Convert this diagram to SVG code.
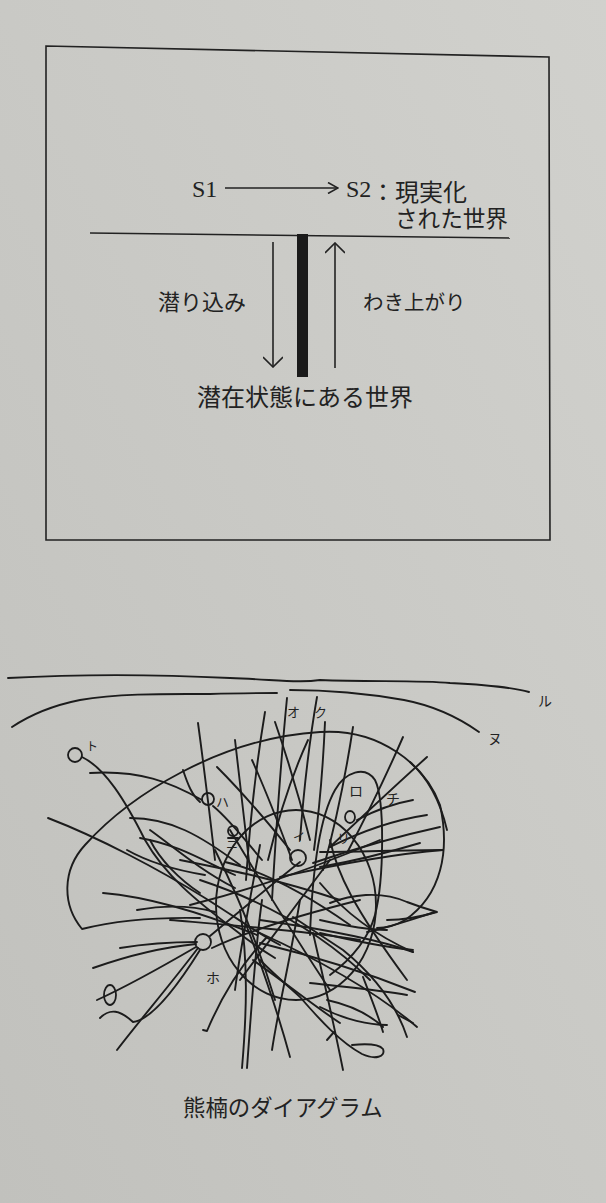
<svg xmlns="http://www.w3.org/2000/svg" width="606" height="1203" viewBox="0 0 606 1203">
<defs>
<linearGradient id="bg" x1="1" y1="0" x2="0" y2="1">
<stop offset="0" stop-color="#d1d1cd"/>
<stop offset="1" stop-color="#c1c1bd"/>
</linearGradient>
<marker id="oa" viewBox="0 0 12 12" refX="11" refY="6" markerWidth="12" markerHeight="12" markerUnits="userSpaceOnUse" orient="auto">
<path d="M1,0.5 L11,6 L1,11.5" fill="none" stroke="#222" stroke-width="1.6"/>
</marker>
<marker id="va" viewBox="0 0 22 14" refX="21" refY="7" markerWidth="22" markerHeight="20" markerUnits="userSpaceOnUse" orient="auto">
<path d="M11,-3 L21,7 L11,17" fill="none" stroke="#222" stroke-width="1.6"/>
</marker>
</defs>
<style>
.jp{font-family:"Liberation Serif","Noto Sans CJK JP",serif;fill:#222}
.lat{font-family:"Liberation Serif",serif;fill:#222}
.sm{font-family:"Noto Sans CJK JP",sans-serif;fill:#222}
.ln{fill:none;stroke:#222;stroke-width:1.6}
.t{fill:none;stroke:#1c1c1c;stroke-width:1.9;stroke-linecap:round;stroke-linejoin:round}
.nd{fill:none;stroke:#1c1c1c;stroke-width:1.8}
</style>
<rect width="606" height="1203" fill="url(#bg)"/>

<g id="frame">
<path class="ln" d="M46,46 L549,57 L550,540 L46,540 Z"/>
<path class="ln" d="M90,233 L510,238"/>
</g>

<g id="s1"><text class="lat" x="192" y="197" font-size="24">S1</text></g>
<g id="s2">
<text class="lat" x="346" y="197" font-size="24">S2</text>
<text class="jp" x="371" y="201" font-size="24">：現実化</text>
<text class="jp" x="395" y="227" font-size="22.6">された世界</text>
</g>
<g id="bar"><rect x="297" y="234" width="11" height="143" fill="#1a1a1a"/></g>
<g id="label-down"><text class="jp" x="158" y="310" font-size="22">潜り込み</text></g>
<g id="label-up"><text class="jp" x="363" y="310" font-size="20.5">わき上がり</text></g>
<g id="latent"><text class="jp" x="197" y="406" font-size="24">潜在状態にある世界</text></g>

<g id="connectors">
<path class="ln" d="M225,188 L338,188" marker-end="url(#oa)"/>
<path class="ln" d="M273,242 L273,367" marker-end="url(#va)"/>
<path class="ln" d="M335,368 L335,243" marker-end="url(#va)"/>
</g>

<g id="minakata">
<path class="t" d="M8,678 C80,674 150,674 230,678 C280,680 300,683 320,680 C370,682 420,680 450,683 C490,685 515,688 529,692"/>
<path class="t" d="M12,727 C30,715 55,705 80,700 C120,693 170,694 210,694 C240,693 260,693 277,693"/>
<path class="t" d="M290,690 C330,690 370,694 404,700 C430,705 455,715 479,732"/>

<path class="t" d="M200,918 C150,917 110,922 82,929 C62,905 62,870 85,845 C130,795 220,738 320,732 C380,728 425,765 440,805 C450,850 442,895 405,920 C395,926 385,928 377,928"/>
<path class="t" d="M410,762 C428,778 440,800 447,830"/>
<path class="t" d="M310,935 C312,880 318,820 335,790 C345,772 365,765 375,780 C385,800 384,880 375,915 C368,940 350,960 330,975"/>
<ellipse class="t" cx="296" cy="905" rx="80" ry="95"/>

<path class="t" d="M287,698 Q279,780 272,900"/>
<path class="t" d="M317,697 Q306,760 300,840"/>
<path class="t" d="M325,722 Q322,790 314,850"/>
<path class="t" d="M198,723 Q207,790 215,860"/>
<path class="t" d="M265,712 Q252,790 246,880"/>
<path class="t" d="M275,722 Q295,780 310,840"/>
<path class="t" d="M235,740 Q242,800 250,870"/>
<path class="t" d="M217,767 Q250,800 290,850"/>
<path class="t" d="M252,760 Q270,800 292,860"/>
<path class="t" d="M308,740 Q285,790 268,860"/>
<path class="t" d="M353,727 Q342,800 323,870"/>
<path class="t" d="M403,737 Q380,790 347,853"/>
<path class="t" d="M427,757 Q385,795 330,847"/>
<path class="t" d="M413,800 Q385,805 357,820"/>
<path class="t" d="M427,815 Q380,822 330,847"/>
<path class="t" d="M440,827 Q380,840 313,863"/>
<path class="t" d="M443,850 Q380,855 280,877"/>

<path class="t" d="M82,757 C105,768 125,800 145,840 C165,875 195,900 235,930 C250,942 262,950 275,958"/>
<path class="t" d="M90,773 C140,770 170,782 202,800"/>
<path class="t" d="M48,818 C100,838 160,870 205,898 C240,920 260,935 280,945"/>
<path class="t" d="M130,818 C170,818 200,835 240,865"/>
<path class="t" d="M140,838 C180,845 205,862 235,875"/>
<path class="t" d="M150,830 C175,848 200,870 235,888"/>
<path class="t" d="M103,893 C150,897 200,912 257,935"/>
<path class="t" d="M137,910 C165,905 190,905 215,912"/>
<path class="t" d="M127,850 C150,863 175,870 205,875"/>
<path class="t" d="M150,840 C160,860 180,880 200,893"/>
<path class="t" d="M183,770 C188,785 192,795 200,802"/>
<path class="t" d="M213,806 C230,820 245,840 262,860"/>

<path class="t" d="M120,948 C150,943 180,942 197,942"/>
<path class="t" d="M93,968 C130,955 165,947 196,944"/>
<path class="t" d="M97,1000 C130,985 165,965 196,947"/>
<path class="t" d="M100,1018 C110,1008 120,1010 133,1022 C150,1020 175,990 200,950"/>
<path class="t" d="M117,1050 C140,1020 170,985 198,948"/>
<path class="t" d="M203,1030 L207,1031 C220,1000 240,965 267,937"/>
<path class="t" d="M242,1068 C247,1010 248,960 240,910"/>
<path class="t" d="M247,1068 C252,1000 255,950 262,900"/>
<path class="t" d="M272,1050 C278,1010 290,960 300,900"/>
<path class="t" d="M290,1057 C280,1020 265,975 247,927"/>
<path class="t" d="M343,1070 C335,1030 325,985 313,933"/>
<path class="t" d="M260,960 C275,975 290,988 300,997 C320,1020 340,1042 362,1054 C375,1060 386,1057 383,1049 C378,1043 362,1044 352,1045"/>
<path class="t" d="M327,1040 L334,1032"/>
<path class="t" d="M407,1037 C398,1010 380,980 343,950 C320,935 305,925 293,917"/>
<path class="t" d="M417,1027 C380,995 330,965 260,933"/>
<path class="t" d="M383,1027 C370,1015 350,1005 327,1000"/>
<path class="t" d="M415,992 C380,978 330,960 260,943"/>
<path class="t" d="M407,995 C380,990 345,987 310,983"/>
<path class="t" d="M413,952 C380,940 330,930 260,920"/>
<path class="t" d="M435,912 C410,920 390,927 367,932"/>
<path class="t" d="M330,903 C350,895 380,890 407,902 C420,907 430,910 437,912 C420,917 400,920 387,920"/>

<path class="t" d="M320,852 C360,852 400,850 443,850"/>
<path class="t" d="M320,867 C360,860 390,852 420,843"/>
<path class="t" d="M320,883 C340,907 370,933 413,952"/>
<path class="t" d="M320,933 C350,940 385,947 413,950"/>
<path class="t" d="M320,920 C350,927 370,930 387,930"/>
<path class="t" d="M330,840 C337,873 353,907 407,980"/>
<path class="t" d="M383,1032 C378,1015 370,995 363,977"/>
<path class="t" d="M398,1015 L413,1023"/>
<path class="t" d="M387,1025 C370,1025 345,1020 320,1007"/>
<path class="t" d="M340,1023 C320,1010 295,990 253,960"/>

<path class="t" d="M210,936 C235,915 265,890 300,862"/>
<path class="t" d="M180,860 C230,870 280,880 340,900"/>
<path class="t" d="M190,905 C250,890 310,870 380,840"/>
<path class="t" d="M215,850 C240,900 260,950 275,1000"/>
<path class="t" d="M200,880 C260,900 320,930 370,980"/>
<path class="t" d="M230,830 C260,880 290,930 330,990"/>
<path class="t" d="M260,845 C250,900 240,950 235,990"/>
<path class="t" d="M170,920 C230,925 300,930 360,940"/>
<path class="t" d="M240,980 C270,940 300,900 330,860"/>
<path class="t" d="M225,862 C260,870 300,890 350,925"/>
<path class="t" d="M212,948 C250,930 300,915 360,900"/>
<path class="t" d="M228,838 L238,838"/>
</g>

<g id="node-to"><circle class="nd" cx="75" cy="755" r="7" fill="#c9c9c5"/><text class="sm" x="86" y="751" font-size="12">ト</text></g>
<g id="node-ha"><circle class="nd" cx="208" cy="799" r="6" fill="#c9c9c5"/><text class="sm" x="216" y="807" font-size="13">ハ</text></g>
<g id="node-ni"><ellipse class="nd" cx="233" cy="831" rx="5" ry="5" fill="#c9c9c5"/><text class="sm" x="226" y="849" font-size="12">ニ</text></g>
<g id="node-i"><circle class="nd" cx="298" cy="858" r="8" fill="#c9c9c5"/><text class="sm" x="293" y="842" font-size="12">イ</text></g>
<g id="node-ro"><text class="sm" x="349" y="796" font-size="14">ロ</text><ellipse class="nd" cx="350" cy="817" rx="5" ry="6" fill="#c9c9c5"/><text class="sm" x="337" y="843" font-size="13">リ</text></g>
<g id="node-chi"><text class="sm" x="386" y="804" font-size="14">チ</text></g>
<g id="node-ho"><circle class="nd" cx="203" cy="942" r="8" fill="#c9c9c5"/><text class="sm" x="206" y="983" font-size="14">ホ</text></g>
<g id="node-small"><ellipse class="nd" cx="110" cy="995" rx="6" ry="10"/></g>
<g id="labels-top">
<text class="sm" x="287" y="717" font-size="13">オ</text>
<text class="sm" x="314" y="717" font-size="13">ク</text>
<text class="sm" x="538" y="706" font-size="14">ル</text>
<text class="sm" x="488" y="744" font-size="14">ヌ</text>
</g>
<g id="caption"><text class="jp" x="183" y="1116" font-size="22.4" fill="#2a2a2a">熊楠のダイアグラム</text></g>
</svg>
